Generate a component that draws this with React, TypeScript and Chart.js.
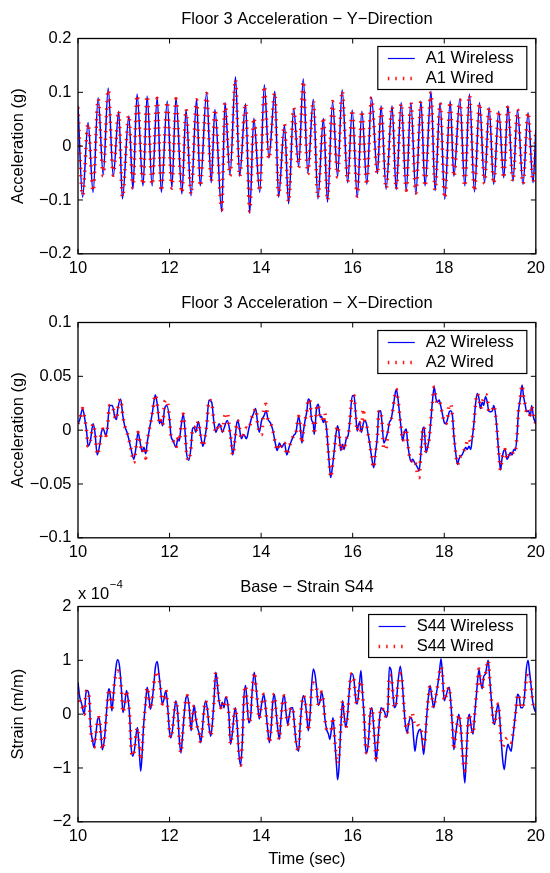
import React, { useEffect, useRef } from "react";
import { Chart, registerables } from "chart.js";

Chart.register(...registerables);

// ---------------- DATA ----------------
// Panel 1: Floor 3 acceleration, Y direction (g)
const p1Time = [
  10.00, 10.10, 10.22, 10.33, 10.44, 10.55, 10.66, 10.77, 10.89, 10.97,
  11.11, 11.20, 11.29, 11.42, 11.51, 11.62, 11.73, 11.82, 11.95, 12.05,
  12.14, 12.27, 12.36, 12.47, 12.59, 12.67, 12.81, 12.91, 12.99, 13.14,
  13.21, 13.32, 13.44, 13.53, 13.66, 13.75, 13.84, 13.97, 14.07, 14.17,
  14.30, 14.38, 14.51, 14.60, 14.71, 14.82, 14.92, 15.02, 15.14, 15.24,
  15.36, 15.45, 15.56, 15.67, 15.77, 15.89, 15.99, 16.10, 16.20, 16.31,
  16.41, 16.54, 16.62, 16.73, 16.86, 16.95, 17.06, 17.17, 17.27, 17.38,
  17.49, 17.58, 17.71, 17.80, 17.91, 18.01, 18.13, 18.21, 18.34, 18.45,
  18.55, 18.66, 18.77, 18.88, 18.98, 19.08, 19.19, 19.30, 19.39, 19.50,
  19.60, 19.72, 19.83, 19.94, 20.00,
];
const a1Wireless = [
  0.075, -0.095, 0.044, -0.086, 0.090, -0.053, 0.108, -0.056, 0.065, -0.098,
  0.056, -0.080, 0.097, -0.074, 0.093, -0.074, 0.091, -0.086, 0.084, -0.077,
  0.090, -0.089, 0.068, -0.092, 0.087, -0.074, 0.100, -0.068, 0.068, -0.122,
  0.081, -0.053, 0.129, -0.056, 0.079, -0.125, 0.052, -0.086, 0.114, -0.022,
  0.102, -0.095, 0.039, -0.107, 0.070, -0.038, 0.125, -0.050, 0.087, -0.098,
  0.052, -0.104, 0.082, -0.056, 0.105, -0.068, 0.067, -0.095, 0.065, -0.071,
  0.091, -0.051, 0.075, -0.080, 0.075, -0.081, 0.081, -0.083, 0.081, -0.089,
  0.084, -0.074, 0.102, -0.083, 0.081, -0.099, 0.084, -0.056, 0.087, -0.074,
  0.097, -0.085, 0.081, -0.068, 0.072, -0.071, 0.065, -0.059, 0.075, -0.065,
  0.067, -0.071, 0.062, -0.068, 0.030,
];
const a1Wired = [
  0.072, -0.092, 0.042, -0.084, 0.088, -0.055, 0.105, -0.054, 0.066, -0.095,
  0.058, -0.078, 0.095, -0.072, 0.094, -0.072, 0.089, -0.084, 0.083, -0.078,
  0.088, -0.087, 0.069, -0.090, 0.086, -0.075, 0.098, -0.066, 0.069, -0.118,
  0.080, -0.055, 0.124, -0.057, 0.080, -0.121, 0.053, -0.084, 0.112, -0.024,
  0.100, -0.093, 0.041, -0.104, 0.071, -0.040, 0.121, -0.052, 0.085, -0.096,
  0.054, -0.101, 0.083, -0.058, 0.103, -0.066, 0.068, -0.093, 0.066, -0.072,
  0.090, -0.052, 0.076, -0.079, 0.074, -0.080, 0.080, -0.082, 0.082, -0.087,
  0.083, -0.075, 0.100, -0.082, 0.080, -0.097, 0.083, -0.057, 0.086, -0.075,
  0.095, -0.084, 0.080, -0.069, 0.073, -0.070, 0.066, -0.060, 0.074, -0.066,
  0.068, -0.070, 0.063, -0.067, 0.032,
];

// Panel 2: Floor 3 acceleration, X direction (g)
const p2Time = [
  10.00, 10.04, 10.10, 10.15, 10.19, 10.22, 10.27, 10.33, 10.37, 10.42,
  10.48, 10.51, 10.55, 10.61, 10.64, 10.69, 10.75, 10.80, 10.84, 10.87,
  10.93, 10.98, 11.02, 11.07, 11.13, 11.16, 11.22, 11.27, 11.31, 11.36,
  11.40, 11.44, 11.48, 11.51, 11.56, 11.60, 11.63, 11.69, 11.74, 11.78,
  11.81, 11.85, 11.89, 11.94, 12.00, 12.03, 12.08, 12.14, 12.18, 12.21,
  12.25, 12.30, 12.34, 12.37, 12.42, 12.47, 12.50, 12.54, 12.57, 12.63,
  12.68, 12.73, 12.78, 12.81, 12.86, 12.92, 12.97, 13.01, 13.04, 13.08,
  13.12, 13.15, 13.20, 13.26, 13.31, 13.35, 13.38, 13.43, 13.48, 13.51,
  13.57, 13.62, 13.68, 13.73, 13.79, 13.83, 13.88, 13.93, 13.96, 14.01,
  14.06, 14.11, 14.15, 14.20, 14.25, 14.31, 14.35, 14.40, 14.45, 14.51,
  14.56, 14.61, 14.66, 14.71, 14.76, 14.82, 14.85, 14.89, 14.92, 14.96,
  15.00, 15.03, 15.07, 15.10, 15.14, 15.16, 15.21, 15.25, 15.29, 15.32,
  15.36, 15.39, 15.43, 15.47, 15.50, 15.52, 15.56, 15.60, 15.63, 15.67,
  15.70, 15.74, 15.78, 15.81, 15.86, 15.90, 15.94, 15.99, 16.03, 16.06,
  16.10, 16.12, 16.15, 16.19, 16.23, 16.26, 16.30, 16.33, 16.37, 16.41,
  16.46, 16.49, 16.54, 16.57, 16.61, 16.64, 16.68, 16.73, 16.77, 16.80,
  16.84, 16.88, 16.91, 16.95, 16.98, 17.02, 17.06, 17.09, 17.13, 17.17,
  17.20, 17.24, 17.27, 17.31, 17.35, 17.38, 17.42, 17.45, 17.49, 17.53,
  17.56, 17.60, 17.64, 17.67, 17.71, 17.74, 17.78, 17.82, 17.85, 17.89,
  17.92, 17.96, 18.00, 18.03, 18.07, 18.11, 18.14, 18.18, 18.21, 18.25,
  18.29, 18.32, 18.36, 18.39, 18.43, 18.47, 18.50, 18.54, 18.58, 18.61,
  18.65, 18.68, 18.72, 18.76, 18.79, 18.83, 18.86, 18.90, 18.94, 18.97,
  19.01, 19.05, 19.08, 19.12, 19.15, 19.19, 19.23, 19.26, 19.30, 19.33,
  19.37, 19.41, 19.44, 19.48, 19.52, 19.55, 19.59, 19.62, 19.66, 19.70,
  19.73, 19.77, 19.80, 19.84, 19.88, 19.91, 19.95, 20.00,
];
const a2Wireless = [
  0.006, 0.010, 0.020, 0.010, -0.002, -0.015, -0.010, 0.006, -0.002, -0.023,
  -0.012, -0.002, 0.001, -0.005, 0.001, 0.023, 0.023, 0.013, 0.010, 0.020,
  0.029, 0.013, 0.004, -0.002, -0.012, -0.018, -0.027, -0.015, -0.002, -0.012,
  -0.020, -0.016, -0.022, -0.012, 0.001, 0.010, 0.018, 0.033, 0.021, 0.006,
  0.009, 0.004, 0.020, 0.023, 0.010, -0.005, -0.010, -0.016, -0.008, -0.010,
  0.003, 0.015, -0.002, -0.021, -0.028, -0.015, 0.001, 0.003, -0.002, 0.008,
  -0.005, -0.015, -0.005, 0.004, 0.028, 0.026, 0.007, -0.002, 0.001, 0.006,
  0.003, -0.002, 0.003, 0.009, 0.001, -0.012, -0.023, -0.008, 0.009, 0.006,
  -0.008, -0.004, -0.008, 0.001, 0.011, 0.015, 0.020, 0.004, -0.002, 0.009,
  0.013, 0.018, 0.010, 0.007, 0.001, -0.012, -0.019, -0.012, -0.016, -0.012,
  -0.023, -0.016, -0.010, -0.005, -0.002, 0.013, 0.006, -0.012, -0.002, 0.009,
  0.018, 0.029, 0.026, 0.010, 0.006, -0.004, 0.020, 0.024, 0.012, 0.013,
  0.007, 0.010, 0.001, -0.021, -0.037, -0.044, -0.033, -0.018, -0.005, 0.004,
  -0.002, -0.019, -0.013, -0.018, -0.008, -0.005, 0.009, 0.032, 0.032, 0.018,
  -0.001, 0.004, 0.007, -0.002, 0.006, 0.009, 0.006, -0.002, -0.012, -0.024,
  -0.035, -0.024, -0.005, 0.017, 0.018, 0.007, -0.012, -0.007, -0.001, 0.007,
  0.010, 0.020, 0.029, 0.038, 0.032, 0.017, 0.001, -0.010, -0.002, 0.001,
  -0.012, -0.024, -0.029, -0.027, -0.030, -0.032, -0.035, -0.038, -0.021, 0.001,
  0.003, -0.021, -0.015, -0.008, 0.010, 0.026, 0.040, 0.029, 0.026, 0.028,
  0.023, 0.015, 0.007, 0.006, 0.010, 0.017, 0.018, 0.013, -0.005, -0.021,
  -0.032, -0.027, -0.024, -0.023, -0.019, -0.016, -0.018, -0.015, -0.018, -0.008,
  0.007, 0.023, 0.034, 0.029, 0.020, 0.026, 0.023, 0.031, 0.026, 0.018,
  0.017, 0.018, 0.023, 0.015, 0.001, -0.021, -0.037, -0.027, -0.019, -0.018,
  -0.027, -0.024, -0.021, -0.023, -0.018, -0.019, -0.005, 0.017, 0.029, 0.042,
  0.032, 0.023, 0.017, 0.018, 0.013, 0.023, 0.012, 0.006,
];
const a2Wired = [
  0.006, 0.010, 0.020, 0.010, -0.002, -0.015, -0.010, 0.006, -0.002, -0.023,
  -0.012, -0.002, 0.001, -0.005, 0.001, 0.023, 0.023, 0.013, 0.010, 0.020,
  0.029, 0.013, 0.004, -0.002, -0.012, -0.018, -0.030, -0.015, -0.002, -0.012,
  -0.021, -0.016, -0.026, -0.012, 0.001, 0.010, 0.018, 0.033, 0.021, 0.006,
  0.009, 0.004, 0.026, 0.028, 0.010, -0.005, -0.010, -0.016, -0.008, -0.010,
  0.003, 0.015, -0.002, -0.021, -0.028, -0.015, 0.001, 0.003, -0.002, 0.008,
  -0.005, -0.015, -0.005, 0.004, 0.028, 0.026, 0.007, -0.002, 0.001, 0.006,
  0.003, -0.002, 0.012, 0.016, 0.001, -0.012, -0.023, -0.008, 0.009, 0.006,
  -0.008, -0.004, 0.002, 0.001, 0.011, 0.015, 0.020, 0.004, -0.002, -0.004,
  0.020, 0.024, 0.010, 0.007, 0.001, -0.012, -0.019, -0.012, -0.016, -0.012,
  -0.023, -0.016, -0.010, -0.005, -0.002, 0.013, 0.006, -0.012, -0.002, 0.009,
  0.018, 0.029, 0.026, 0.010, 0.006, -0.004, 0.020, 0.024, 0.012, 0.013,
  0.007, 0.016, 0.001, -0.021, -0.037, -0.044, -0.033, -0.018, -0.005, 0.004,
  -0.002, -0.019, -0.013, -0.018, -0.008, -0.005, 0.009, 0.032, 0.032, 0.018,
  -0.001, 0.004, 0.007, -0.002, 0.020, 0.009, 0.006, -0.002, -0.012, -0.024,
  -0.035, -0.024, -0.005, 0.017, 0.018, 0.007, -0.018, -0.017, -0.001, 0.007,
  0.010, 0.020, 0.029, 0.038, 0.032, 0.017, 0.001, -0.010, -0.002, 0.001,
  -0.012, -0.024, -0.029, -0.027, -0.030, -0.032, -0.042, -0.044, -0.021, 0.001,
  0.003, -0.021, -0.015, -0.008, 0.010, 0.026, 0.040, 0.029, 0.026, 0.028,
  0.023, 0.015, 0.007, 0.006, 0.010, 0.024, 0.024, 0.013, -0.005, -0.021,
  -0.032, -0.027, -0.024, -0.023, -0.019, -0.016, -0.010, -0.008, -0.011, -0.008,
  0.007, 0.023, 0.034, 0.029, 0.020, 0.026, 0.030, 0.033, 0.031, 0.018,
  0.017, 0.018, 0.023, 0.015, 0.001, -0.021, -0.037, -0.027, -0.019, -0.018,
  -0.027, -0.024, -0.021, -0.023, -0.018, -0.019, -0.005, 0.017, 0.029, 0.042,
  0.032, 0.023, 0.017, 0.018, 0.013, 0.023, 0.012, 0.006,
];

// Panel 3: Base strain S44 (in units of 1e-4 m/m)
const p3Time = [
  10.00, 10.04, 10.08, 10.12, 10.14, 10.17, 10.20, 10.25, 10.27, 10.32,
  10.35, 10.39, 10.43, 10.46, 10.49, 10.53, 10.58, 10.62, 10.66, 10.68,
  10.71, 10.74, 10.77, 10.80, 10.84, 10.87, 10.91, 10.95, 10.98, 11.02,
  11.06, 11.09, 11.13, 11.16, 11.20, 11.24, 11.27, 11.30, 11.33, 11.37,
  11.40, 11.43, 11.48, 11.51, 11.55, 11.58, 11.62, 11.66, 11.69, 11.73,
  11.76, 11.80, 11.84, 11.87, 11.92, 11.96, 12.00, 12.03, 12.07, 12.10,
  12.14, 12.18, 12.21, 12.25, 12.28, 12.32, 12.36, 12.39, 12.43, 12.47,
  12.50, 12.54, 12.57, 12.61, 12.65, 12.68, 12.72, 12.75, 12.79, 12.83,
  12.86, 12.90, 12.94, 12.97, 13.01, 13.04, 13.08, 13.12, 13.15, 13.19,
  13.22, 13.26, 13.30, 13.33, 13.37, 13.41, 13.44, 13.48, 13.51, 13.55,
  13.59, 13.62, 13.66, 13.69, 13.73, 13.77, 13.80, 13.85, 13.89, 13.93,
  13.96, 14.01, 14.06, 14.09, 14.14, 14.18, 14.22, 14.25, 14.29, 14.32,
  14.36, 14.40, 14.43, 14.47, 14.51, 14.54, 14.58, 14.61, 14.65, 14.69,
  14.72, 14.76, 14.82, 14.85, 14.89, 14.92, 14.96, 15.00, 15.03, 15.07,
  15.10, 15.14, 15.18, 15.21, 15.25, 15.29, 15.32, 15.36, 15.39, 15.43,
  15.47, 15.50, 15.54, 15.57, 15.61, 15.65, 15.67, 15.70, 15.74, 15.78,
  15.81, 15.85, 15.89, 15.92, 15.96, 15.99, 16.03, 16.07, 16.10, 16.14,
  16.18, 16.21, 16.25, 16.28, 16.31, 16.35, 16.38, 16.42, 16.46, 16.49,
  16.51, 16.55, 16.59, 16.62, 16.66, 16.70, 16.73, 16.77, 16.80, 16.84,
  16.88, 16.91, 16.95, 16.98, 17.04, 17.08, 17.11, 17.15, 17.19, 17.22,
  17.26, 17.30, 17.33, 17.36, 17.40, 17.44, 17.48, 17.51, 17.55, 17.58,
  17.62, 17.66, 17.69, 17.73, 17.77, 17.80, 17.85, 17.89, 17.93, 17.96,
  18.00, 18.03, 18.07, 18.11, 18.14, 18.18, 18.21, 18.25, 18.29, 18.32,
  18.36, 18.41, 18.45, 18.48, 18.52, 18.55, 18.59, 18.63, 18.66, 18.71,
  18.76, 18.79, 18.83, 18.86, 18.90, 18.94, 18.96, 18.99, 19.03, 19.07,
  19.10, 19.14, 19.18, 19.21, 19.25, 19.28, 19.31, 19.35, 19.39, 19.42,
  19.46, 19.49, 19.53, 19.57, 19.60, 19.64, 19.67, 19.71, 19.75, 19.79,
  19.83, 19.86, 19.90, 19.93, 19.96, 20.00,
];
const s44Wireless = [
  0.59, 0.31, 0.19, 0.03, 0.00, 0.37, 0.44, 0.25, -0.19, -0.50,
  -0.62, -0.37, -0.09, -0.06, -0.25, -0.66, -0.44, 0.00, 0.41, 0.47,
  0.31, 0.06, 0.31, 0.62, 0.94, 1.01, 0.87, 0.44, 0.03, 0.19,
  0.44, 0.31, -0.06, -0.62, -0.78, -0.62, -0.37, -0.25, -0.56, -1.06,
  -0.75, -0.25, 0.25, 0.50, 0.31, 0.09, 0.25, 0.59, 0.87, 0.98,
  0.81, 0.50, 0.19, 0.25, 0.44, 0.12, -0.34, -0.44, -0.25, 0.03,
  0.25, 0.00, -0.44, -0.72, -0.44, 0.00, 0.31, 0.34, 0.12, -0.31,
  -0.06, 0.16, -0.06, -0.25, -0.37, -0.53, -0.25, 0.06, 0.25, 0.06,
  -0.22, -0.41, -0.12, 0.25, 0.78, 0.59, 0.25, 0.12, 0.22, 0.12,
  0.31, 0.25, -0.06, -0.56, -0.37, 0.00, 0.12, -0.25, -0.69, -0.95,
  -0.50, 0.25, 0.53, 0.25, -0.16, -0.06, 0.37, 0.78, 0.50, 0.12,
  -0.09, 0.19, 0.37, 0.19, -0.25, -0.53, -0.25, 0.19, 0.37, 0.12,
  -0.25, -0.47, -0.12, 0.25, 0.34, 0.06, -0.19, -0.06, 0.12, 0.12,
  -0.12, -0.50, -0.69, -0.25, 0.19, 0.34, 0.25, -0.06, -0.31, 0.00,
  0.50, 0.84, 0.72, 0.50, 0.16, 0.25, 0.41, 0.25, -0.06, -0.28,
  -0.37, -0.47, -0.25, -0.06, -0.50, -1.00, -1.22, -1.00, -0.25, 0.25,
  0.00, -0.25, 0.00, 0.37, 0.72, 0.75, 0.62, 0.25, 0.19, 0.50,
  0.81, 0.44, -0.06, -0.62, -0.72, -0.44, 0.00, 0.12, -0.25, -0.62,
  -0.88, -0.50, -0.06, 0.12, 0.09, 0.03, -0.06, 0.12, 0.87, 0.81,
  0.37, 0.12, 0.19, 0.50, 0.89, 0.62, 0.25, -0.19, -0.34, -0.19,
  -0.06, -0.12, -0.44, -0.69, -0.44, -0.31, -0.28, -0.44, -0.75, -0.50,
  0.00, 0.37, 0.53, 0.31, 0.12, 0.25, 0.50, 0.75, 1.03, 0.75,
  0.25, 0.31, 0.44, 0.50, 0.25, -0.25, -0.66, -0.37, -0.12, 0.00,
  -0.25, -0.88, -1.28, -0.81, -0.12, 0.00, -0.25, -0.37, -0.06, 0.44,
  0.84, 0.62, 0.47, 0.69, 0.75, 0.94, 1.00, 0.69, 0.25, -0.12,
  -0.19, 0.06, 0.19, -0.06, -0.56, -0.88, -1.03, -0.75, -0.56, -0.62,
  -0.69, -0.50, -0.19, 0.12, 0.37, 0.31, 0.12, 0.12, 0.31, 0.81,
  1.00, 0.81, 0.50, 0.25, 0.12, 0.03,
];
const s44Wired = [
  0.40, 0.25, 0.19, 0.03, 0.00, 0.37, 0.44, 0.25, -0.19, -0.50,
  -0.62, -0.37, -0.09, -0.06, -0.25, -0.66, -0.44, 0.00, 0.41, 0.47,
  0.31, 0.06, 0.31, 0.62, 0.75, 0.80, 0.72, 0.44, 0.03, 0.19,
  0.44, 0.31, -0.06, -0.62, -0.78, -0.62, -0.37, -0.25, -0.45, -0.85,
  -0.65, -0.25, 0.25, 0.50, 0.31, 0.09, 0.25, 0.59, 0.72, 0.80,
  0.70, 0.50, 0.19, 0.25, 0.44, 0.12, -0.34, -0.44, -0.25, 0.03,
  0.25, 0.00, -0.44, -0.72, -0.44, 0.00, 0.31, 0.34, 0.12, -0.31,
  -0.06, 0.16, -0.06, -0.25, -0.37, -0.53, -0.25, 0.06, 0.25, 0.06,
  -0.22, -0.41, -0.12, 0.25, 0.78, 0.59, 0.25, 0.12, 0.22, 0.12,
  0.31, 0.25, -0.06, -0.56, -0.37, 0.00, 0.12, -0.25, -0.69, -0.95,
  -0.50, 0.25, 0.53, 0.25, -0.16, -0.06, 0.37, 0.78, 0.50, 0.12,
  -0.09, 0.19, 0.37, 0.19, -0.25, -0.53, -0.25, 0.19, 0.37, 0.12,
  -0.25, -0.47, -0.12, 0.25, 0.34, 0.06, -0.19, -0.06, 0.12, 0.12,
  -0.12, -0.50, -0.69, -0.25, 0.19, 0.34, 0.25, -0.06, -0.31, 0.00,
  0.40, 0.58, 0.55, 0.50, 0.16, 0.25, 0.41, 0.25, -0.06, -0.28,
  -0.30, -0.32, -0.25, -0.06, -0.50, -0.85, -0.92, -0.80, -0.25, 0.25,
  0.00, -0.25, 0.00, 0.37, 0.72, 0.75, 0.62, 0.25, 0.19, 0.50,
  0.62, 0.44, -0.06, -0.62, -0.72, -0.44, 0.00, 0.12, -0.25, -0.62,
  -0.88, -0.50, -0.06, 0.12, 0.09, 0.03, -0.06, 0.12, 0.72, 0.70,
  0.37, 0.12, 0.19, 0.50, 0.75, 0.62, 0.25, -0.19, -0.34, -0.19,
  -0.06, 0.03, -0.12, -0.19, -0.16, -0.22, -0.25, -0.35, -0.60, -0.50,
  0.00, 0.37, 0.53, 0.31, 0.12, 0.25, 0.50, 0.75, 0.88, 0.75,
  0.25, 0.31, 0.44, 0.50, 0.25, -0.25, -0.66, -0.37, -0.12, 0.00,
  -0.25, -0.88, -1.05, -0.81, -0.12, 0.00, -0.25, -0.37, -0.06, 0.44,
  0.84, 0.62, 0.47, 0.69, 0.75, 0.94, 1.00, 0.69, 0.25, -0.12,
  -0.19, 0.06, 0.19, -0.06, -0.56, -0.60, -0.52, -0.46, -0.44, -0.50,
  -0.52, -0.42, -0.19, 0.12, 0.37, 0.31, 0.12, 0.12, 0.31, 0.65,
  0.72, 0.68, 0.50, 0.25, 0.12, 0.12,
];

const xTickRange = { min: 10, max: 20, step: 2 };

// ---------------- STYLE ----------------
const FONT = '"Liberation Sans", Arial, Helvetica, sans-serif';
const FS = 16.5;
const BLUE = "#0000ff";
const RED = "rgba(255,0,0,0.92)";
const CHART_TOP = 38.5;
const CHART_H = 215.3;
const AXIS_W = 78;
const RIGHT_PAD = 11;

type PanelCfg = {
  title: string;
  yLabel: string;
  yMin: number;
  yMax: number;
  yStep: number;
  names: [string, string];
  t: number[];
  wireless: number[];
  wired: number[];
  xLabel?: string;
  exponent?: boolean;
  top: number;
  height: number;
};

function fmt(v: number): string {
  const r = Math.round(v * 1000) / 1000;
  if (r === 0) return "0";
  return (r < 0 ? "\u2212" : "") + String(Math.abs(r));
}

function pts(t: number[], v: number[]) {
  const n = Math.min(t.length, v.length);
  const out: { x: number; y: number }[] = [];
  for (let i = 0; i < n; i++) out.push({ x: t[i], y: v[i] });
  return out;
}

function makePlugin(cfg: PanelCfg) {
  return {
    id: "matlabDecor",
    afterDraw(chart: any) {
      const { ctx, chartArea: a, scales } = chart;
      const xs = scales.x;
      const ys = scales.y;
      ctx.save();
      // axes box
      ctx.strokeStyle = "#000";
      ctx.lineWidth = 1.3;
      ctx.strokeRect(a.left, a.top, a.right - a.left, a.bottom - a.top);
      // inward ticks on all four sides
      const tl = 5;
      ctx.beginPath();
      xs.ticks.forEach((tk: any) => {
        const px = xs.getPixelForValue(tk.value);
        ctx.moveTo(px, a.bottom);
        ctx.lineTo(px, a.bottom - tl);
        ctx.moveTo(px, a.top);
        ctx.lineTo(px, a.top + tl);
      });
      ys.ticks.forEach((tk: any) => {
        const py = ys.getPixelForValue(tk.value);
        ctx.moveTo(a.left, py);
        ctx.lineTo(a.left + tl, py);
        ctx.moveTo(a.right, py);
        ctx.lineTo(a.right - tl, py);
      });
      ctx.lineWidth = 1;
      ctx.stroke();

      ctx.fillStyle = "#000";
      ctx.font = `${FS}px ${FONT}`;
      // title
      ctx.textAlign = "center";
      ctx.textBaseline = "alphabetic";
      ctx.fillText(cfg.title, (a.left + a.right) / 2, a.top - 15);
      // y label
      ctx.save();
      ctx.translate(18, (a.top + a.bottom) / 2);
      ctx.rotate(-Math.PI / 2);
      ctx.textBaseline = "middle";
      ctx.fillText(cfg.yLabel, 0, 0);
      ctx.restore();
      // x label
      if (cfg.xLabel) {
        ctx.textBaseline = "middle";
        ctx.fillText(cfg.xLabel, (a.left + a.right) / 2, a.bottom + 38);
      }
      // exponent label
      if (cfg.exponent) {
        ctx.textAlign = "left";
        ctx.textBaseline = "alphabetic";
        ctx.fillText("x 10", a.left, a.top - 7.5);
        const w = ctx.measureText("x 10").width;
        ctx.font = `${FS * 0.7}px ${FONT}`;
        ctx.fillText("\u22124", a.left + w + 0.5, a.top - 18.5);
        ctx.font = `${FS}px ${FONT}`;
      }
      // legend
      const tw = Math.max(
        ctx.measureText(cfg.names[0]).width,
        ctx.measureText(cfg.names[1]).width
      );
      const right = a.right - 9;
      const top = a.top + 8;
      const h = 43;
      const left = right - (tw + 61);
      ctx.fillStyle = "#fff";
      ctx.fillRect(left, top, right - left, h);
      ctx.strokeStyle = "#000";
      ctx.lineWidth = 1.2;
      ctx.strokeRect(left, top, right - left, h);
      const r1 = top + 12;
      const r2 = top + 32;
      ctx.beginPath();
      ctx.strokeStyle = BLUE;
      ctx.lineWidth = 1.2;
      ctx.moveTo(left + 10, r1);
      ctx.lineTo(left + 37, r1);
      ctx.stroke();
      ctx.beginPath();
      ctx.strokeStyle = RED;
      ctx.lineWidth = 3.5;
      ctx.setLineDash([1.5, 6]);
      ctx.moveTo(left + 10, r2);
      ctx.lineTo(left + 38, r2);
      ctx.stroke();
      ctx.setLineDash([]);
      ctx.fillStyle = "#000";
      ctx.textAlign = "left";
      ctx.textBaseline = "middle";
      ctx.fillText(cfg.names[0], left + 48, r1);
      ctx.fillText(cfg.names[1], left + 48, r2);
      ctx.restore();
    },
  };
}

function Panel({ cfg }: { cfg: PanelCfg }) {
  const ref = useRef<HTMLCanvasElement | null>(null);
  useEffect(() => {
    if (!ref.current) return;
    const xH = cfg.height - CHART_TOP - CHART_H;
    const font = { family: FONT, size: FS };
    const chart = new Chart(ref.current, {
      type: "line",
      data: {
        datasets: [
          {
            label: cfg.names[0],
            data: pts(cfg.t, cfg.wireless),
            borderColor: BLUE,
            borderWidth: 1.5,
            pointRadius: 0,
            cubicInterpolationMode: "monotone",
            fill: false,
            order: 1,
          },
          {
            label: cfg.names[1],
            data: pts(cfg.t, cfg.wired),
            borderColor: RED,
            borderWidth: 3.5,
            borderDash: [1.5, 6],
            borderCapStyle: "butt",
            pointRadius: 0,
            cubicInterpolationMode: "monotone",
            fill: false,
            order: 0,
          },
        ],
      },
      options: {
        animation: false,
        responsive: false,
        maintainAspectRatio: false,
        events: [],
        layout: {
          padding: { top: CHART_TOP, left: 0, right: RIGHT_PAD, bottom: 0 },
        },
        plugins: {
          legend: { display: false },
          tooltip: { enabled: false },
          title: { display: false },
        },
        scales: {
          x: {
            type: "linear",
            min: xTickRange.min,
            max: xTickRange.max,
            afterFit: (s: any) => {
              s.height = xH;
            },
            ticks: {
              stepSize: xTickRange.step,
              padding: 5,
              color: "#000",
              font,
              maxRotation: 0,
              autoSkip: false,
            },
            grid: { display: false, drawTicks: false },
            border: { display: false },
          },
          y: {
            type: "linear",
            min: cfg.yMin,
            max: cfg.yMax,
            afterFit: (s: any) => {
              s.width = AXIS_W;
            },
            ticks: {
              stepSize: cfg.yStep,
              padding: 6.5,
              color: "#000",
              font,
              callback: (v: any) => fmt(Number(v)),
            },
            grid: { display: false, drawTicks: false },
            border: { display: false },
          },
        },
      } as any,
      plugins: [makePlugin(cfg)],
    });
    return () => chart.destroy();
  }, []);
  return (
    <canvas
      ref={ref}
      width={550}
      height={cfg.height}
      style={{
        position: "absolute",
        left: 0,
        top: cfg.top,
        width: 550,
        height: cfg.height,
        display: "block",
      }}
    />
  );
}

const panels: PanelCfg[] = [
  {
    title: "Floor 3 Acceleration \u2212 Y\u2212Direction",
    yLabel: "Acceleration (g)",
    yMin: -0.2,
    yMax: 0.2,
    yStep: 0.1,
    names: ["A1 Wireless", "A1 Wired"],
    t: p1Time,
    wireless: a1Wireless,
    wired: a1Wired,
    top: 0,
    height: 284,
  },
  {
    title: "Floor 3 Acceleration \u2212 X\u2212Direction",
    yLabel: "Acceleration (g)",
    yMin: -0.1,
    yMax: 0.1,
    yStep: 0.05,
    names: ["A2 Wireless", "A2 Wired"],
    t: p2Time,
    wireless: a2Wireless,
    wired: a2Wired,
    top: 284,
    height: 284,
  },
  {
    title: "Base \u2212 Strain S44",
    yLabel: "Strain (m/m)",
    yMin: -2,
    yMax: 2,
    yStep: 1,
    names: ["S44 Wireless", "S44 Wired"],
    t: p3Time,
    wireless: s44Wireless,
    wired: s44Wired,
    xLabel: "Time (sec)",
    exponent: true,
    top: 568,
    height: 305,
  },
];

export default function App() {
  return (
    <div
      style={{
        position: "absolute",
        left: 0,
        top: 0,
        width: 550,
        height: 873,
        background: "#fff",
        overflow: "hidden",
      }}
    >
      {panels.map((p, i) => (
        <Panel key={i} cfg={p} />
      ))}
    </div>
  );
}
